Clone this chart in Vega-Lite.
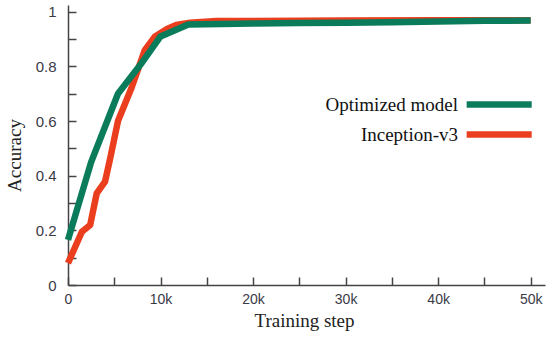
{
  "$schema": "https://vega.github.io/schema/vega-lite/v6.json",
  "autosize": "none",
  "width": 477,
  "height": 280,
  "padding": {"left": 68, "top": 5, "right": 5, "bottom": 53},
  "background": "white",
  "config": {
    "view": {"stroke": null},
    "axis": {"grid": false, "domainColor": "#444444", "domainWidth": 1.5, "tickColor": "#444444", "tickWidth": 1.5, "tickSize": -8, "labelFont": "Liberation Sans", "labelColor": "#3a3a46", "titleFont": "Liberation Serif", "titleFontWeight": "normal", "titleColor": "#222222", "titleFontSize": 19}
  },
  "data": {"values": [
    {"step": 0, "acc": 0.08, "model": "Inception-v3"},
    {"step": 1500, "acc": 0.195, "model": "Inception-v3"},
    {"step": 2400, "acc": 0.22, "model": "Inception-v3"},
    {"step": 3100, "acc": 0.335, "model": "Inception-v3"},
    {"step": 4000, "acc": 0.378, "model": "Inception-v3"},
    {"step": 4600, "acc": 0.47, "model": "Inception-v3"},
    {"step": 5400, "acc": 0.6, "model": "Inception-v3"},
    {"step": 6900, "acc": 0.725, "model": "Inception-v3"},
    {"step": 8300, "acc": 0.86, "model": "Inception-v3"},
    {"step": 9400, "acc": 0.91, "model": "Inception-v3"},
    {"step": 10700, "acc": 0.937, "model": "Inception-v3"},
    {"step": 11700, "acc": 0.952, "model": "Inception-v3"},
    {"step": 13200, "acc": 0.96, "model": "Inception-v3"},
    {"step": 16000, "acc": 0.966, "model": "Inception-v3"},
    {"step": 20000, "acc": 0.966, "model": "Inception-v3"},
    {"step": 30000, "acc": 0.968, "model": "Inception-v3"},
    {"step": 40000, "acc": 0.969, "model": "Inception-v3"},
    {"step": 50000, "acc": 0.969, "model": "Inception-v3"},
    {"step": 0, "acc": 0.165, "model": "Optimized model"},
    {"step": 2500, "acc": 0.45, "model": "Optimized model"},
    {"step": 5400, "acc": 0.7, "model": "Optimized model"},
    {"step": 7800, "acc": 0.805, "model": "Optimized model"},
    {"step": 10000, "acc": 0.91, "model": "Optimized model"},
    {"step": 13000, "acc": 0.954, "model": "Optimized model"},
    {"step": 20000, "acc": 0.957, "model": "Optimized model"},
    {"step": 25000, "acc": 0.959, "model": "Optimized model"},
    {"step": 30000, "acc": 0.96, "model": "Optimized model"},
    {"step": 35000, "acc": 0.962, "model": "Optimized model"},
    {"step": 40000, "acc": 0.965, "model": "Optimized model"},
    {"step": 45000, "acc": 0.967, "model": "Optimized model"},
    {"step": 50000, "acc": 0.968, "model": "Optimized model"}
  ]},
  "mark": {"type": "line", "strokeWidth": 6.5, "strokeCap": "butt", "strokeJoin": "round", "clip": false},
  "encoding": {
    "x": {"field": "step", "type": "quantitative", "scale": {"domain": [0, 51550], "nice": false, "zero": false},
      "axis": {"title": "Training step", "values": [0,5000,10000,15000,20000,25000,30000,35000,40000,45000,50000], "labelExpr": "datum.value % 10000 == 0 ? (datum.value == 0 ? '0' : (datum.value/1000) + 'k') : ''", "labelFontSize": 14, "labelPadding": 15, "labelFlush": false, "titleBaseline": "top", "titleY": 26, "titleX": 236}},
    "y": {"field": "acc", "type": "quantitative", "scale": {"domain": [0, 1.025], "nice": false},
      "axis": {"title": "Accuracy", "values": [0,0.1,0.2,0.3,0.4,0.5,0.6,0.7,0.8,0.9,1], "format": ".1~f", "labelExpr": "round(datum.value*10) % 2 == 0 ? datum.label : ''", "labelFontSize": 15, "labelPadding": 20, "titleX": -44, "titleY": 150}},
    "color": {"field": "model", "type": "nominal",
      "scale": {"domain": ["Optimized model", "Inception-v3"], "range": ["#0b7c5b", "#ea3e1e"]},
      "legend": {"title": null, "orient": "none", "legendX": 395, "legendY": 85, "padding": 0, "symbolType": "M-1,0H5", "symbolSize": 470, "symbolStrokeWidth": 6.5, "labelFont": "Liberation Serif", "labelFontSize": 19, "labelColor": "#111111", "labelAlign": "right", "labelOffset": -34, "labelLimit": 0, "rowPadding": 2}}
  }
}
